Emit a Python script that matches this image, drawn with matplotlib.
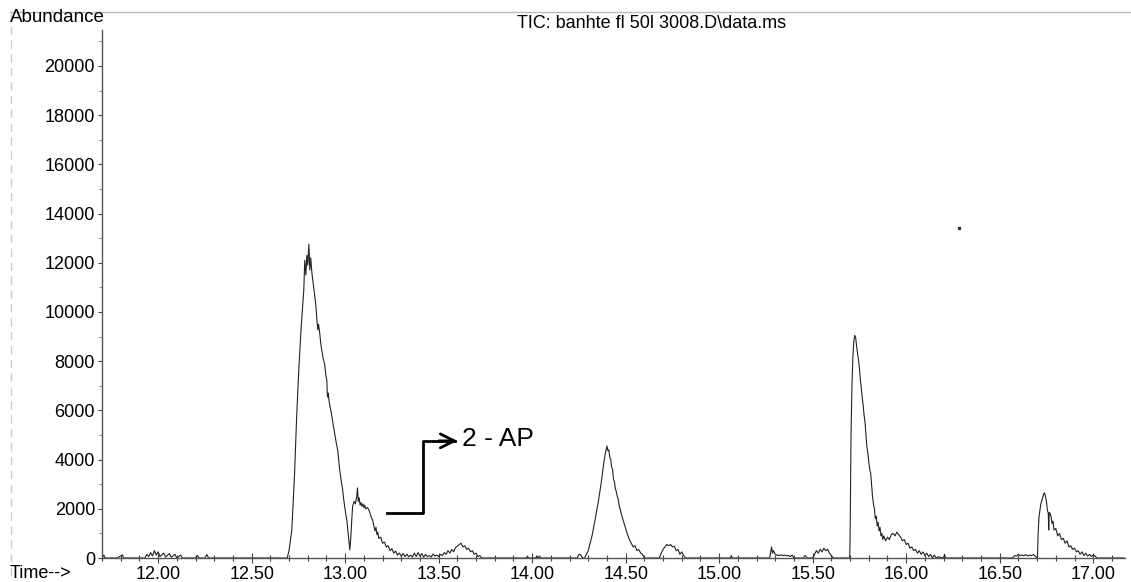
import matplotlib.pyplot as plt
from matplotlib.lines import Line2D
from matplotlib.ticker import MultipleLocator, FormatStrFormatter

plt.rcParams['font.family'] = ['Liberation Sans', 'DejaVu Sans']

# retention time (min) and abundance
time_min = [
    11.70, 11.71, 11.715, 11.78, 11.81, 11.815, 11.93, 11.94, 11.95, 11.96,
    11.97, 11.98, 11.99, 12.00, 12.01, 12.03, 12.04, 12.06, 12.07, 12.09,
    12.10, 12.12, 12.13, 12.20, 12.21, 12.22, 12.25, 12.26, 12.27, 12.68,
    # peak 1
    12.69, 12.70, 12.715, 12.73, 12.74, 12.752, 12.765, 12.779, 12.784, 12.79,
    12.795, 12.80, 12.806, 12.811, 12.816, 12.822, 12.827, 12.835, 12.843, 12.85,
    12.854, 12.858, 12.864, 12.87, 12.875, 12.883, 12.891, 12.897, 12.902, 12.905,
    12.907, 12.91, 12.912, 12.918, 12.923, 12.93, 12.937, 12.944, 12.952, 12.96,
    12.966, 12.971, 12.978, 12.987, 12.992, 12.998, 13.004, 13.009, 13.015, 13.02,
    13.025, 13.03, 13.035, 13.04, 13.048, 13.055, 13.062, 13.066, 13.07, 13.075,
    13.08, 13.085, 13.09, 13.095, 13.10, 13.105, 13.11, 13.12, 13.13, 13.14,
    13.147, 13.155, 13.16, 13.165, 13.17, 13.175, 13.18, 13.19, 13.20, 13.21,
    13.22, 13.23, 13.24, 13.25, 13.26, 13.27, 13.28, 13.29, 13.30, 13.31,
    13.32, 13.33, 13.34, 13.35, 13.36, 13.37, 13.38, 13.39, 13.40, 13.41,
    13.42, 13.43, 13.44, 13.45, 13.46, 13.47, 13.48, 13.49, 13.50, 13.51,
    13.52, 13.53, 13.54, 13.55, 13.56, 13.57, 13.58, 13.59, 13.60, 13.61,
    13.62, 13.63, 13.64, 13.65, 13.66, 13.67, 13.68, 13.69, 13.70, 13.71,
    13.72, 13.73, 13.97, 13.975, 13.98, 14.02, 14.025, 14.03, 14.04, 14.045,
    14.24, 14.25, 14.26, 14.27,
    # peak 3
    14.28, 14.30, 14.32, 14.34, 14.355, 14.37, 14.38, 14.39, 14.395, 14.40,
    14.405, 14.41, 14.415, 14.42, 14.425, 14.43, 14.435, 14.44, 14.445, 14.45,
    14.455, 14.46, 14.465, 14.47, 14.48, 14.49, 14.50, 14.51, 14.52, 14.53,
    14.54, 14.55, 14.56, 14.57, 14.58, 14.59, 14.60,
    14.68, 14.69, 14.70, 14.71, 14.72, 14.73, 14.74, 14.75, 14.76, 14.77,
    14.78, 14.79, 14.80, 14.81, 14.82, 15.06, 15.065, 15.07, 15.27, 15.28,
    15.285, 15.29, 15.30, 15.31, 15.32, 15.33, 15.34, 15.35, 15.36, 15.37,
    15.38, 15.39, 15.40, 15.45, 15.46, 15.47, 15.50, 15.51, 15.52, 15.53,
    15.54, 15.55, 15.56, 15.57, 15.58, 15.59, 15.60, 15.61, 15.69,
    # peak 5
    15.698, 15.70, 15.702, 15.705, 15.71, 15.715, 15.72, 15.725, 15.73, 15.735,
    15.74, 15.745, 15.75, 15.755, 15.76, 15.765, 15.77, 15.775, 15.78, 15.785,
    15.79, 15.795, 15.80, 15.805, 15.81, 15.815, 15.82, 15.825, 15.83, 15.835,
    15.84, 15.845, 15.85, 15.855, 15.86, 15.865, 15.87, 15.875, 15.88, 15.89,
    15.90, 15.91, 15.92, 15.93, 15.94, 15.95, 15.96, 15.97, 15.98, 15.99,
    16.00, 16.01, 16.02, 16.03, 16.04, 16.05, 16.06, 16.07, 16.08, 16.09,
    16.10, 16.11, 16.12, 16.13, 16.14, 16.15, 16.16, 16.17, 16.20, 16.205,
    16.21, 16.57, 16.58, 16.59, 16.60, 16.61, 16.62, 16.63, 16.64, 16.65,
    16.66, 16.67, 16.68, 16.69, 16.70,
    # peak 6
    16.702, 16.705, 16.71, 16.72, 16.73, 16.735, 16.74, 16.745, 16.75, 16.755,
    16.76, 16.762, 16.765, 16.77, 16.775, 16.78, 16.785, 16.79, 16.80, 16.81,
    16.82, 16.83, 16.84, 16.85, 16.86, 16.87, 16.88, 16.89, 16.90, 16.91,
    16.92, 16.93, 16.94, 16.95, 16.96, 16.97, 16.98, 16.99, 17.00, 17.01,
    17.02, 17.17,
]

abundance = [
    0, 120, 0, 0, 130, 0, 0, 150, 60, 220,
    80, 300, 120, 250, 60, 200, 40, 180, 30, 150,
    0, 120, 0, 0, 100, 0, 0, 140, 0, 0,
    0, 300, 1140, 3500, 5600, 7640, 9400, 10900, 12100, 11500,
    12300, 11900, 12750, 11700, 12200, 11600, 11300, 10800, 10300, 9600,
    9270, 9500, 9150, 8700, 8450, 8100, 7850, 7400, 7240, 6600,
    6540, 6700, 6500, 6200, 6020, 5700, 5400, 5080, 4700, 4390,
    3950, 3580, 3200, 2760, 2400, 2070, 1750, 1540, 1100, 700,
    330, 800, 1500, 2100, 2300, 2200, 2500, 2850, 2300, 2450,
    2150, 2250, 2100, 2200, 2050, 2150, 2000, 2050, 1900, 1650,
    1540, 1250, 1100, 1250, 950, 1050, 800, 850, 600, 650,
    450, 500, 300, 380, 200, 280, 120, 200, 80, 180,
    60, 150, 50, 120, 40, 200, 60, 220, 80, 180,
    30, 150, 60, 100, 40, 160, 80, 120, 60, 150,
    100, 220, 150, 300, 200, 350, 250, 420, 480, 550,
    600, 450, 500, 350, 400, 250, 300, 150, 200, 60,
    100, 0, 0, 80, 0, 0, 90, 0, 80, 0,
    0, 150, 120, 0,
    0, 300, 900, 1700, 2350, 3100, 3700, 4200, 4400, 4550,
    4350, 4400, 4100, 4000, 3700, 3600, 3200, 3100, 2800, 2700,
    2500, 2400, 2150, 2000, 1700, 1450, 1200, 950, 750, 600,
    450, 500, 300, 350, 200, 150, 0,
    0, 200, 350, 450, 550, 500, 550, 450, 480, 300,
    350, 150, 250, 100, 0, 0, 100, 0, 0, 450,
    200, 300, 150, 120, 100, 130, 100, 120, 90, 110,
    60, 120, 0, 0, 100, 0, 0, 150, 300, 200,
    350, 250, 400, 300, 350, 200, 100, 0, 0,
    0, 800, 2500, 5000, 7000, 8200, 8800, 9050, 8950, 8600,
    8300, 8050, 7700, 7240, 6900, 6500, 6200, 5800, 5500, 5000,
    4500, 4270, 3900, 3600, 3450, 3000, 2500, 2200, 2000, 1600,
    1700, 1300, 1450, 1100, 1250, 900, 1000, 750, 900, 700,
    850, 750, 950, 1000, 900, 1050, 950, 850, 700, 750,
    550, 600, 400, 450, 300, 350, 200, 300, 150, 250,
    100, 200, 60, 150, 0, 120, 0, 50, 0, 150,
    0, 0, 100, 80, 150, 100, 120, 90, 140, 80,
    120, 100, 140, 80, 0,
    0, 900, 1670, 2200, 2450, 2600, 2650, 2500, 2300, 1950,
    1800, 1140, 1850, 1800, 1670, 1400, 1500, 1140, 1200, 900,
    1000, 750, 800, 600, 700, 450, 500, 350, 400, 250,
    300, 150, 250, 100, 200, 80, 150, 60, 120, 80,
    0, 0,
]

# stray dot left on the scan
speck_time = [16.28]
speck_abundance = [13400]

y_ticks = [0, 2000, 4000, 6000, 8000, 10000, 12000, 14000, 16000, 18000, 20000]
title = 'TIC: banhte fl 50l 3008.D\\data.ms'

fig = plt.figure(figsize=(11.31, 5.82), dpi=100)
ax = fig.add_axes([0.0902, 0.0412, 0.9045, 0.9073])

ax.plot(time_min, abundance, color='#222222', lw=0.8)
ax.plot(speck_time, speck_abundance, 's', color='#333333', ms=1.5)

ax.set_xlim(11.70, 17.17)
ax.set_ylim(0, 21460)
for s in ['top', 'right']:
    ax.spines[s].set_visible(False)
for s in ['left', 'bottom']:
    ax.spines[s].set_color('#555555')
    ax.spines[s].set_linewidth(1.0)

ax.xaxis.set_major_locator(MultipleLocator(0.5))
ax.xaxis.set_minor_locator(MultipleLocator(0.1))
ax.xaxis.set_major_formatter(FormatStrFormatter('%.2f'))
ax.set_yticks(y_ticks)
ax.yaxis.set_minor_locator(MultipleLocator(1000))
ax.tick_params(axis='x', which='major', direction='inout', length=7, width=0.8,
               labelsize=13, pad=2, colors='#444444', labelcolor='black')
ax.tick_params(axis='x', which='minor', direction='inout', length=5, width=0.8,
               colors='#444444')
ax.tick_params(axis='y', which='major', direction='out', length=3, width=0.8,
               labelsize=13, pad=2, colors='#444444', labelcolor='black')
ax.tick_params(axis='y', which='minor', direction='out', length=2, width=0.6,
               colors='#777777')

# 2 - AP marker
ax.plot([13.222, 13.414, 13.414, 13.59], [1830, 1830, 4760, 4760],
        color='black', lw=2)
ax.annotate('', xy=(13.60, 4760), xytext=(13.50, 4760),
            arrowprops=dict(arrowstyle='->', color='black', lw=2,
                            mutation_scale=25, shrinkA=0, shrinkB=0))
ax.text(13.625, 4830, '2 - AP', fontsize=19, va='center', ha='left')

fig.text(10 / 1131, 1 - 17 / 582, 'Abundance', fontsize=13.5, va='center', ha='left')
fig.text(10 / 1131, 1 - 574 / 582, 'Time-->', fontsize=13, va='center', ha='left')
fig.text(652 / 1131, 1 - 23 / 582, title, fontsize=13, va='center', ha='center')

# faint frame left by the scan
fig.add_artist(Line2D([10 / 1131, 1.0], [1 - 12 / 582] * 2, color='#bbbbbb', lw=1))
fig.add_artist(Line2D([11 / 1131] * 2, [1 - 12 / 582, 0.0], color='#cccccc', lw=1,
                      linestyle=(0, (6, 4))))

fig.savefig('out.png', dpi=100)
